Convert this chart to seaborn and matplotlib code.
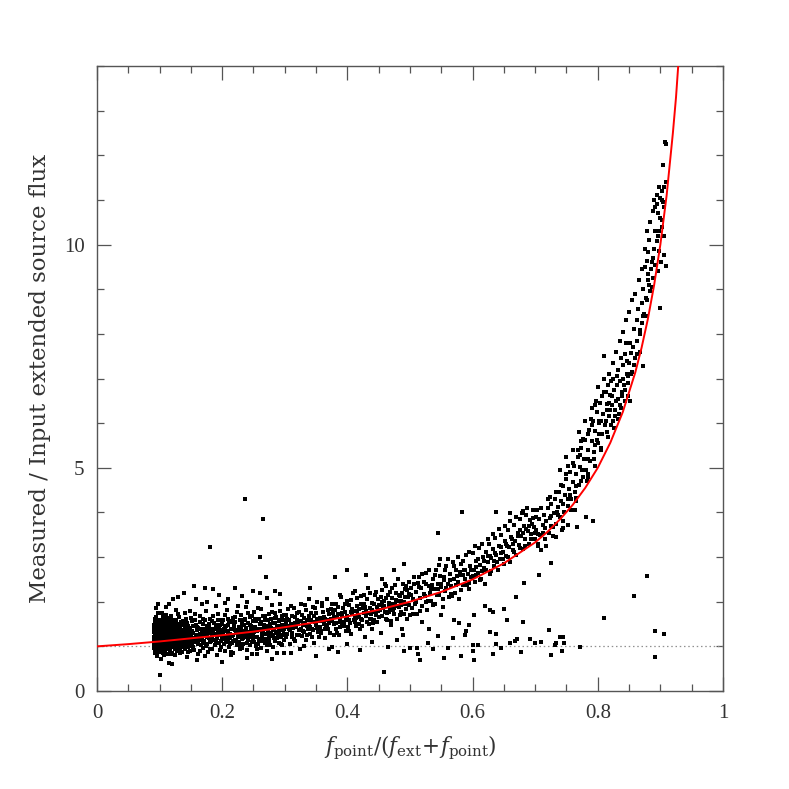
import numpy as np
import pandas as pd
import matplotlib
matplotlib.use("Agg")
import matplotlib.pyplot as plt
import seaborn as sns
from matplotlib.ticker import MultipleLocator

### 1. Values ###

## dense clump at the left edge ##
pts_left = [
    (0.091,1.05),(0.091,1.32),(0.092,0.92),(0.092,1.18),(0.092,1.55),(0.093,1.25),(0.093,0.85),(0.093,1.42),
    (0.094,1.10),(0.094,1.65),(0.094,0.98),(0.095,1.28),(0.095,1.85),(0.095,1.02),(0.096,1.38),(0.096,0.78),
    (0.096,1.15),(0.097,1.48),(0.097,1.22),(0.097,0.95),(0.098,1.33),(0.098,1.08),(0.098,1.95),(0.099,1.27),
    (0.099,0.88),(0.099,1.60),(0.100,1.12),(0.100,1.40),(0.100,0.35),(0.101,1.20),(0.101,0.99),(0.101,1.52),
    (0.102,1.30),(0.102,1.05),(0.102,0.72),(0.103,1.45),(0.103,1.17),(0.103,0.93),(0.104,1.36),(0.104,1.24),
    (0.104,1.75),(0.105,1.09),(0.105,1.50),(0.105,0.86),(0.106,1.28),(0.106,1.14),(0.106,1.02),(0.107,1.42),
    (0.107,1.21),(0.107,0.96),(0.108,1.33),(0.108,1.62),(0.108,1.07),(0.109,1.19),(0.109,0.90),(0.109,1.38),
    (0.110,1.26),(0.110,1.11),(0.110,1.48),(0.111,1.00),(0.111,1.31),(0.111,1.70),(0.112,1.16),(0.112,0.82),
    (0.112,1.44),(0.113,1.23),(0.113,1.05),(0.113,1.35),(0.114,0.97),(0.114,1.55),(0.114,1.18),(0.115,1.29),
    (0.115,1.12),(0.115,0.62),(0.116,1.40),(0.116,1.03),(0.116,1.24),(0.117,1.58),(0.117,0.92),(0.117,1.15),
    (0.118,1.34),(0.118,1.08),(0.118,1.27),(0.119,1.46),(0.119,0.99),(0.119,1.20),(0.120,1.13),(0.120,1.37),
    (0.120,0.85),(0.121,1.25),(0.121,1.52),(0.121,1.06),(0.122,1.17),(0.122,1.32),(0.122,2.05),(0.123,1.01),
    (0.123,1.42),(0.123,1.22),(0.124,0.94),(0.124,1.30),(0.124,1.11),(0.125,1.48),(0.125,1.19),(0.125,0.80),
    (0.126,1.36),(0.126,1.04),(0.126,1.26),(0.127,1.14),(0.127,1.60),(0.127,0.96),(0.128,1.29),(0.128,1.09),
    (0.128,1.40),(0.129,1.21),(0.129,0.89),(0.130,1.33),(0.130,1.16),(0.130,1.72),(0.131,1.02),(0.131,1.25),
    (0.132,1.44),(0.132,1.10),(0.133,0.93),(0.133,1.30),(0.134,1.20),(0.134,1.55),(0.135,1.07),(0.135,1.36),
    (0.136,0.87),(0.136,1.24),(0.137,1.13),(0.137,1.47),(0.138,1.00),(0.138,1.31),(0.139,1.19),(0.139,2.20),
    (0.140,1.41),(0.140,1.06),(0.141,1.27),(0.141,0.95),(0.142,1.15),(0.142,1.62),(0.143,1.34),(0.143,1.03),
    (0.144,1.22),(0.144,0.76),(0.145,1.45),(0.145,1.12),(0.146,1.29),(0.146,0.98),(0.147,1.38),(0.147,1.18),
    (0.148,1.08),(0.148,1.80),(0.149,1.26),(0.149,0.90),(0.150,1.35),(0.150,1.14),
    (0.0915,1.15),(0.0935,1.36),(0.0955,1.07),(0.0975,1.19),(0.0995,1.45),(0.1015,1.30),(0.1035,1.02),
    (0.1055,1.23),(0.1075,1.13),(0.1095,1.34),(0.1115,1.08),(0.1135,1.47),(0.1155,1.20),(0.1175,1.01),
    (0.1195,1.31),(0.1215,1.15),(0.1235,1.38),(0.1255,1.09),(0.1275,1.24),(0.1295,1.04),(0.1315,1.39),
    (0.1335,1.17),(0.1355,1.27),(0.1375,0.99),(0.1395,1.32),(0.1415,1.12),(0.1435,1.43),(0.1455,1.06),
    (0.1475,1.23),(0.1495,1.01),
    (0.0905,1.40),(0.0912,0.96),(0.0925,1.62),(0.0938,1.12),(0.0948,0.88),(0.0958,1.50),(0.0968,1.30),
    (0.0982,1.74),(0.0992,1.03),(0.1008,1.58),(0.1022,0.90),(0.1032,1.36),(0.1046,1.16),(0.1058,1.68),
    (0.1066,0.80),(0.1082,1.44),(0.1092,1.22),(0.1104,1.88),(0.1118,0.93),(0.1126,1.38),(0.1142,1.28),
    (0.1152,1.64),(0.1168,1.05),(0.1182,1.52),(0.1188,0.82),(0.1206,1.42),(0.1224,1.00),(0.1232,1.58),
    (0.1246,1.26),(0.1262,1.82),(0.1272,0.90),(0.1286,1.50),(0.1302,1.10),(0.1318,1.66),(0.1326,0.86),
    (0.1342,1.48),(0.1364,1.12),(0.1382,1.56),(0.1398,1.00),(0.1406,1.74),(0.1424,1.20),(0.1446,1.52),
    (0.1462,0.88),(0.1486,1.42),(0.1498,1.64),
    (0.0908,1.22),(0.0918,1.48),(0.0942,1.34),(0.0962,0.92),(0.0978,1.40),(0.1002,1.28),(0.1012,1.08),
    (0.1028,1.46),(0.1052,1.34),(0.1072,1.60),(0.1088,1.04),(0.1108,1.30),(0.1122,1.56),(0.1138,1.10),
    (0.1162,1.36),(0.1178,1.68),(0.1198,1.12),(0.1218,1.42),(0.1242,1.52),(0.1268,1.18),(0.1292,1.44),
    (0.1322,1.24),(0.1352,1.50),(0.1388,1.26),(0.1418,1.34),(0.1452,1.20),(0.1482,1.30),
]

## band from 0.15 to 0.30 ##
pts_low = [
    (0.151,1.22),(0.152,1.04),(0.153,1.46),(0.154,1.30),(0.155,0.92),(0.156,1.18),(0.157,1.58),(0.158,1.10),
    (0.159,1.37),(0.160,1.25),(0.161,0.84),(0.162,1.42),(0.163,1.15),(0.164,1.28),(0.165,1.68),(0.166,1.02),
    (0.167,1.33),(0.168,1.20),(0.169,0.97),(0.170,1.50),(0.171,1.12),(0.172,1.38),(0.173,2.30),(0.174,1.26),
    (0.175,1.06),(0.176,1.45),(0.177,0.88),(0.178,1.31),(0.179,1.18),(0.180,3.22),(0.180,1.62),(0.181,1.09),
    (0.182,1.40),(0.183,1.23),(0.184,0.95),(0.185,1.35),(0.186,1.14),(0.187,1.52),(0.188,1.27),(0.189,1.02),
    (0.190,1.44),(0.191,1.19),(0.192,0.80),(0.193,1.33),(0.194,1.72),(0.195,1.08),(0.196,1.25),(0.197,1.48),
    (0.198,0.99),(0.199,1.36),(0.200,1.16),(0.201,1.58),(0.202,1.29),(0.203,1.05),(0.204,1.41),(0.205,0.90),
    (0.206,1.22),(0.207,1.82),(0.208,1.34),(0.209,1.12),(0.210,1.47),(0.211,0.98),(0.212,1.28),(0.213,1.18),
    (0.214,1.55),(0.215,1.07),(0.216,1.39),(0.217,1.25),(0.218,0.86),(0.219,1.45),(0.220,1.14),(0.221,1.66),
    (0.222,1.31),(0.223,1.02),(0.224,1.37),(0.225,1.21),(0.226,1.90),(0.227,1.10),(0.228,1.43),(0.229,0.94),
    (0.230,1.30),(0.231,1.52),(0.232,1.17),(0.233,1.35),(0.234,1.06),(0.235,1.60),(0.236,1.26),(0.237,4.30),
    (0.238,1.41),(0.239,0.92),(0.240,1.33),(0.241,1.14),(0.242,1.75),(0.243,1.24),(0.244,1.48),(0.245,1.03),
    (0.246,1.36),(0.247,0.82),(0.248,1.20),(0.249,1.56),(0.250,1.29),(0.251,1.10),(0.252,1.44),(0.253,1.62),
    (0.254,1.00),(0.255,1.34),(0.256,1.22),(0.257,1.85),(0.258,1.40),(0.259,1.13),(0.260,3.00),(0.261,1.50),
    (0.262,0.96),(0.263,1.31),(0.264,1.19),(0.265,1.68),(0.266,3.85),(0.267,1.38),(0.268,1.08),(0.269,1.27),
    (0.270,2.55),(0.271,1.46),(0.272,0.90),(0.273,1.35),(0.274,1.58),(0.275,1.17),(0.276,1.42),(0.277,1.04),
    (0.278,1.30),(0.279,1.78),(0.280,1.24),(0.281,1.52),(0.282,0.98),(0.283,1.39),(0.284,1.12),(0.285,1.64),
    (0.286,1.33),(0.287,1.45),(0.288,0.85),(0.289,1.26),(0.290,1.56),(0.291,1.08),(0.292,1.40),(0.293,1.95),
    (0.294,1.21),(0.295,1.48),(0.296,1.02),(0.297,1.36),(0.298,1.70),(0.299,1.15),(0.300,1.44),
    (0.1525,1.34),(0.1555,1.13),(0.1585,1.26),(0.1615,1.05),(0.1645,1.39),(0.1675,1.16),(0.1705,1.29),
    (0.1735,1.00),(0.1765,1.21),(0.1795,1.44),(0.1825,1.11),(0.1855,1.30),(0.1885,1.03),(0.1915,1.25),
    (0.1945,1.38),(0.1975,1.12),(0.2005,1.27),(0.2035,1.40),(0.2065,1.09),(0.2095,1.32),(0.2125,1.05),
    (0.2155,1.24),(0.2185,1.43),(0.2215,1.15),(0.2245,1.28),(0.2275,1.02),(0.2305,1.40),(0.2335,1.18),
    (0.2365,1.30),(0.2395,1.08),(0.2425,1.26),(0.2455,1.45),(0.2485,1.12),(0.2515,1.32),(0.2545,1.20),
    (0.2575,1.05),(0.2605,1.38),(0.2635,1.24),(0.2665,1.48),(0.2695,1.16),(0.2725,1.30),(0.2755,1.10),
    (0.2785,1.42),(0.2815,1.25),(0.2845,1.53),(0.2875,1.18),(0.2905,1.35),(0.2935,1.05),(0.2965,1.46),
    (0.2995,1.27),
    (0.1512,1.56),(0.1538,0.98),(0.1568,1.72),(0.1592,1.44),(0.1622,1.20),(0.1652,0.90),(0.1688,1.62),
    (0.1712,1.40),(0.1748,1.80),(0.1772,1.34),(0.1808,0.94),(0.1838,1.56),(0.1872,1.14),(0.1898,1.90),
    (0.1932,1.48),(0.1962,0.92),(0.1992,1.60),(0.2022,1.18),(0.2052,1.70),(0.2082,1.24),(0.2112,1.56),
    (0.2142,0.88),(0.2172,1.64),(0.2202,1.36),(0.2232,1.76),(0.2262,1.20),(0.2292,1.58),(0.2322,0.96),
    (0.2352,1.48),(0.2382,1.88),(0.2412,1.30),(0.2442,1.66),(0.2472,1.10),(0.2502,1.78),(0.2532,1.40),
    (0.2562,0.94),(0.2592,1.62),(0.2622,1.84),(0.2652,1.30),(0.2682,1.58),(0.2712,1.02),(0.2742,1.72),
    (0.2772,1.50),(0.2802,1.92),(0.2832,1.18),(0.2862,1.66),(0.2892,1.46),(0.2922,1.80),(0.2952,1.26),
    (0.2982,1.60),
    (0.1532,1.10),(0.1578,1.48),(0.1602,1.18),(0.1638,1.54),(0.1662,1.28),(0.1698,1.08),(0.1722,1.60),
    (0.1758,1.24),(0.1782,1.50),(0.1818,1.32),(0.1848,1.68),(0.1878,1.40),(0.1908,1.12),(0.1938,1.58),
    (0.1968,1.30),(0.1998,1.50),(0.2028,1.06),(0.2058,1.46),(0.2088,1.62),(0.2118,1.20),(0.2148,1.40),
    (0.2178,1.12),(0.2208,1.54),(0.2238,1.08),(0.2268,1.44),(0.2298,1.70),(0.2328,1.28),(0.2358,1.62),
    (0.2388,1.20),(0.2418,1.52),(0.2448,1.32),(0.2478,1.68),(0.2508,1.22),(0.2538,1.56),(0.2568,1.36),
    (0.2598,1.16),(0.2628,1.54),(0.2658,1.12),(0.2688,1.68),(0.2718,1.40),(0.2748,1.22),(0.2778,1.62),
    (0.2808,1.36),(0.2838,1.74),(0.2868,1.30),(0.2898,1.20),(0.2928,1.58),(0.2958,1.68),(0.2988,1.40),
    (0.115,1.95),(0.130,2.10),(0.155,2.35),(0.175,2.00),(0.195,2.15),(0.210,2.05),(0.220,2.30),(0.240,2.00),
    (0.260,2.20),(0.285,2.25),(0.120,0.60),(0.160,0.70),(0.200,0.65),(0.240,0.75),(0.280,0.72),
    (0.158,2.05),(0.168,1.95),(0.186,2.28),(0.204,1.98),(0.232,2.12),(0.250,2.25),(0.272,2.08),(0.292,2.18),
    (0.172,0.78),(0.214,0.80),(0.256,0.82),(0.298,0.86),
]

## band from 0.30 to 0.50 ##
pts_mid = [
    (0.302,1.20),(0.304,1.62),(0.306,1.38),(0.308,1.05),(0.310,1.50),(0.312,1.30),(0.314,1.85),(0.316,1.12),
    (0.318,1.44),(0.320,1.58),(0.322,1.25),(0.324,0.95),(0.326,1.40),(0.328,1.70),(0.330,1.33),(0.332,1.52),
    (0.334,1.15),(0.336,1.46),(0.338,2.05),(0.340,1.28),(0.342,1.60),(0.344,1.38),(0.346,1.08),(0.348,1.55),
    (0.350,1.75),(0.352,1.42),(0.354,1.22),(0.356,1.64),(0.358,1.35),(0.360,1.90),(0.362,1.50),(0.364,1.18),
    (0.366,1.58),(0.368,1.44),(0.370,1.72),(0.372,1.30),(0.374,1.62),(0.376,0.98),(0.378,1.50),(0.380,1.82),
    (0.382,1.40),(0.384,1.66),(0.386,1.25),(0.388,1.55),(0.390,2.10),(0.392,1.70),(0.394,1.46),(0.396,1.78),
    (0.398,1.35),(0.400,1.62),(0.402,1.92),(0.404,1.52),(0.406,1.28),(0.408,1.72),(0.410,1.60),(0.412,2.25),
    (0.414,1.45),(0.416,1.80),(0.418,1.66),(0.420,1.38),(0.422,1.95),(0.424,1.58),(0.426,1.75),(0.428,1.20),
    (0.430,1.68),(0.432,2.05),(0.434,1.50),(0.436,1.86),(0.438,1.62),(0.440,1.40),(0.442,1.78),(0.444,2.15),
    (0.446,1.70),(0.448,1.55),(0.450,1.92),(0.452,1.82),(0.454,1.30),(0.456,1.68),(0.458,2.02),(0.460,1.76),
    (0.462,2.35),(0.464,1.58),(0.466,1.90),(0.468,1.85),(0.470,1.48),(0.472,2.08),(0.474,1.72),(0.476,1.95),
    (0.478,2.20),(0.480,1.62),(0.482,1.88),(0.484,2.12),(0.486,1.78),(0.488,1.40),(0.490,2.00),(0.492,2.28),
    (0.494,1.84),(0.496,1.96),(0.498,2.45),(0.500,1.70),
    (0.305,1.45),(0.311,1.22),(0.317,1.66),(0.323,1.36),(0.329,1.48),(0.335,1.26),(0.341,1.44),(0.347,1.68),
    (0.353,1.33),(0.359,1.56),(0.365,1.40),(0.371,1.52),(0.377,1.74),(0.383,1.30),(0.389,1.62),(0.395,1.55),
    (0.401,1.44),(0.407,1.84),(0.413,1.64),(0.419,1.50),(0.425,1.86),(0.431,1.54),(0.437,1.72),(0.443,1.60),
    (0.449,1.80),(0.455,2.00),(0.461,1.62),(0.467,1.98),(0.473,1.82),(0.479,2.02),(0.485,1.92),(0.491,1.72),
    (0.497,2.10),
    (0.3012,1.70),(0.3035,1.28),(0.3072,1.58),(0.3095,1.90),(0.3132,1.42),(0.3155,1.16),(0.3192,1.74),
    (0.3215,1.50),(0.3252,1.96),(0.3275,1.24),(0.3312,1.64),(0.3335,1.82),(0.3372,1.38),(0.3395,1.68),
    (0.3432,1.20),(0.3455,1.88),(0.3492,1.48),(0.3515,2.00),(0.3552,1.56),(0.3575,1.30),(0.3612,1.76),
    (0.3635,1.62),(0.3672,2.06),(0.3695,1.40),(0.3732,1.84),(0.3755,1.56),(0.3792,1.26),(0.3815,1.96),
    (0.3852,1.72),(0.3875,2.14),(0.3912,1.48),(0.3935,1.86),(0.3972,1.60),(0.3995,2.02),(0.4032,1.34),
    (0.4055,1.78),(0.4092,2.20),(0.4115,1.54),(0.4152,1.90),(0.4175,1.70),(0.4212,2.12),(0.4235,1.46),
    (0.4272,1.96),(0.4295,1.80),(0.4332,2.30),(0.4355,1.62),(0.4392,1.98),(0.4415,1.52),(0.4452,2.22),
    (0.4475,1.88),(0.4512,1.66),(0.4535,2.10),(0.4572,1.86),(0.4595,2.40),(0.4632,1.74),(0.4655,2.16),
    (0.4692,1.56),(0.4715,2.30),(0.4752,1.86),(0.4775,2.04),(0.4812,2.50),(0.4835,1.70),(0.4872,2.20),
    (0.4895,1.94),(0.4932,2.36),(0.4955,1.62),(0.4982,2.18),
    (0.3022,1.52),(0.3058,1.84),(0.3088,1.36),(0.3122,1.68),(0.3158,1.52),(0.3188,1.26),(0.3222,1.78),
    (0.3258,1.56),(0.3288,1.34),(0.3322,1.92),(0.3358,1.58),(0.3388,1.46),(0.3422,1.74),(0.3458,1.36),
    (0.3488,1.86),(0.3522,1.62),(0.3558,1.44),(0.3588,1.98),(0.3622,1.66),(0.3658,1.48),(0.3688,1.82),
    (0.3722,1.58),(0.3758,1.94),(0.3788,1.66),(0.3822,1.52),(0.3858,1.88),(0.3888,1.44),(0.3922,1.74),
    (0.3958,1.94),(0.3988,1.68),(0.4022,1.58),(0.4058,2.04),(0.4088,1.80),(0.4122,1.68),(0.4158,2.08),
    (0.4188,1.84),(0.4222,1.62),(0.4258,2.16),(0.4288,1.88),(0.4322,1.74),(0.4358,2.20),(0.4388,1.82),
    (0.4422,1.96),(0.4458,1.74),(0.4488,2.06),(0.4522,1.92),(0.4558,2.26),(0.4588,1.90),(0.4622,2.08),
    (0.4658,1.78),(0.4688,2.22),(0.4722,1.96),(0.4758,2.38),(0.4788,1.90),(0.4822,2.16),(0.4858,2.02),
    (0.4888,2.40),(0.4922,2.10),(0.4958,2.26),(0.4988,1.92),
    (0.310,0.85),(0.330,1.00),(0.350,0.78),(0.370,0.95),(0.385,0.88),(0.400,1.05),(0.420,0.92),(0.440,1.10),
    (0.458,0.43),(0.465,0.98),(0.480,1.15),(0.490,0.90),(0.489,1.26),
    (0.340,2.30),(0.380,2.55),(0.400,2.71),(0.430,2.60),(0.455,2.50),(0.475,2.70),(0.490,2.85),
]

## band from 0.50 to 0.70 ##
pts_upper = [
    (0.502,2.15),(0.504,1.85),(0.506,2.40),(0.508,1.95),(0.510,2.22),(0.512,1.72),(0.514,2.55),(0.516,2.08),
    (0.518,2.30),(0.520,1.90),(0.522,2.45),(0.524,2.12),(0.526,2.65),(0.528,1.82),(0.530,2.35),(0.532,2.20),
    (0.534,2.02),(0.536,2.50),(0.538,2.28),(0.540,1.95),(0.542,2.70),(0.544,2.40),(0.546,2.15),(0.548,2.58),
    (0.550,2.32),(0.552,1.88),(0.554,2.48),(0.556,2.25),(0.558,2.80),(0.560,2.40),(0.562,2.10),(0.564,2.62),
    (0.566,2.35),(0.568,2.90),(0.570,2.52),(0.572,2.20),(0.574,2.70),(0.576,2.45),(0.578,2.05),(0.580,2.60),
    (0.582,2.85),(0.584,2.38),(0.586,2.72),(0.588,2.50),(0.590,3.05),(0.592,2.62),(0.594,2.28),(0.596,2.80),
    (0.598,2.55),(0.600,3.10),(0.602,2.70),(0.604,2.45),(0.606,2.92),(0.608,2.65),(0.610,3.20),(0.612,2.82),
    (0.614,2.52),(0.616,3.00),(0.618,2.75),(0.620,2.40),(0.622,3.12),(0.624,2.88),(0.626,3.30),(0.628,2.62),
    (0.630,2.98),(0.632,3.18),(0.634,2.80),(0.636,3.42),(0.638,3.05),(0.640,2.70),(0.642,3.25),(0.644,2.95),
    (0.646,3.50),(0.648,3.12),(0.650,2.85),(0.652,3.35),(0.654,3.02),(0.656,3.60),(0.658,3.22),(0.660,2.90),
    (0.662,3.45),(0.664,3.15),(0.666,3.72),(0.668,3.35),(0.670,3.05),(0.672,3.55),(0.674,3.28),(0.676,3.85),
    (0.678,3.48),(0.680,3.18),(0.682,3.70),(0.684,3.40),(0.686,3.95),(0.688,3.58),(0.690,3.30),(0.692,3.82),
    (0.694,3.52),(0.696,4.05),(0.698,3.68),(0.700,3.40),
    (0.505,2.05),(0.515,2.32),(0.525,2.00),(0.535,2.38),(0.545,2.28),(0.555,2.55),(0.565,2.18),(0.575,2.58),
    (0.585,2.60),(0.595,2.42),(0.605,2.78),(0.615,2.68),(0.625,3.02),(0.635,2.92),(0.645,3.10),(0.655,3.25),
    (0.665,3.30),(0.675,3.60),(0.685,3.62),(0.695,3.75),
    (0.5012,2.30),(0.5042,1.72),(0.5072,2.55),(0.5102,2.00),(0.5132,2.42),(0.5162,1.80),(0.5192,2.62),
    (0.5222,2.18),(0.5252,2.40),(0.5282,2.02),(0.5312,2.72),(0.5342,2.28),(0.5372,1.92),(0.5402,2.60),
    (0.5432,2.14),(0.5462,2.82),(0.5492,2.40),(0.5522,2.05),(0.5552,2.70),(0.5582,2.30),(0.5612,2.95),
    (0.5642,2.48),(0.5672,2.12),(0.5702,2.80),(0.5732,2.38),(0.5762,3.00),(0.5792,2.66),(0.5822,2.26),
    (0.5852,2.92),(0.5882,2.70),(0.5912,2.38),(0.5942,3.12),(0.5972,2.72),(0.6002,2.58),(0.6032,3.25),
    (0.6062,2.60),(0.6092,2.95),(0.6122,2.48),(0.6152,3.30),(0.6182,2.92),(0.6212,2.70),(0.6242,3.40),
    (0.6272,3.02),(0.6302,2.68),(0.6332,3.52),(0.6362,3.10),(0.6392,2.88),(0.6422,3.62),(0.6452,3.22),
    (0.6482,2.96),(0.6512,3.70),(0.6542,3.30),(0.6572,3.00),(0.6602,3.80),(0.6632,3.40),(0.6662,3.12),
    (0.6692,3.90),(0.6722,3.48),(0.6752,3.20),(0.6782,3.98),(0.6812,3.55),(0.6842,3.25),(0.6872,4.10),
    (0.6902,3.70),(0.6932,3.40),(0.6962,3.88),(0.6992,3.55),
    (0.545,3.54),(0.548,2.96),(0.583,4.00),(0.637,4.00),(0.660,3.99),(0.680,4.03),(0.682,2.42),(0.706,2.60),
    (0.726,2.87),(0.602,1.70),(0.628,1.82),(0.633,1.77),(0.578,1.52),(0.594,1.48),(0.650,1.84),(0.520,1.55),
    (0.530,1.40),(0.550,1.70),(0.570,1.60),(0.620,1.90),(0.655,1.60),(0.670,2.10),(0.680,1.55),(0.590,1.35),
]

## points sitting near the y = 1 line ##
pts_flat = [
    (0.500,0.97),(0.511,0.97),(0.513,0.84),(0.516,0.69),(0.529,1.07),(0.537,0.94),(0.544,1.24),(0.555,0.75),
    (0.561,0.96),(0.569,1.18),(0.581,0.78),(0.588,1.26),(0.600,1.02),(0.600,0.90),(0.603,0.70),(0.608,1.03),
    (0.628,1.33),(0.633,0.84),(0.637,1.05),(0.638,1.28),(0.646,0.96),(0.660,1.07),(0.668,1.13),(0.671,1.16),
    (0.677,0.87),(0.692,1.17),(0.699,1.07),(0.710,1.09),(0.722,1.37),(0.725,0.81),(0.732,1.03),(0.734,1.07),
    (0.739,1.20),(0.743,0.89),(0.745,1.20),(0.746,1.07),(0.772,0.99),(0.810,1.64),(0.858,2.13),(0.878,2.57),
    (0.891,1.35),(0.891,0.77),(0.906,1.27),
]

## steep part, 0.70 to 0.82 ##
pts_steep = [
    (0.702,3.60),(0.704,3.25),(0.706,3.85),(0.708,3.50),(0.710,3.15),(0.712,3.72),(0.714,3.95),(0.716,3.40),
    (0.718,3.80),(0.720,4.10),(0.722,3.55),(0.724,3.88),(0.726,4.20),(0.728,3.68),(0.730,3.98),(0.732,4.30),
    (0.734,3.75),(0.736,4.12),(0.738,4.45),(0.740,3.90),(0.742,4.25),(0.744,4.60),(0.746,4.02),(0.748,4.38),
    (0.750,4.75),(0.752,4.15),(0.754,4.52),(0.756,4.90),(0.758,4.30),(0.760,4.68),(0.762,5.05),(0.764,4.45),
    (0.766,4.85),(0.768,5.25),(0.770,4.62),(0.772,5.02),(0.774,5.45),(0.776,4.80),(0.778,5.20),(0.780,5.62),
    (0.782,4.95),(0.784,5.40),(0.786,5.85),(0.788,5.15),(0.790,5.60),(0.792,6.05),(0.794,5.35),(0.796,5.82),
    (0.798,6.25),(0.800,5.55),(0.802,6.00),(0.804,6.45),(0.806,5.75),(0.808,6.20),(0.810,7.50),(0.812,5.95),
    (0.814,6.42),(0.816,6.85),(0.818,6.15),(0.820,6.62),
    (0.705,3.52),(0.715,3.66),(0.725,3.70),(0.735,4.00),(0.745,4.20),(0.755,4.40),(0.765,4.60),(0.775,4.95),
    (0.785,5.20),(0.795,5.50),(0.805,6.05),(0.815,6.30),(0.703,4.05),(0.723,4.35),(0.743,3.60),(0.763,4.05),
    (0.783,4.70),(0.733,3.45),(0.753,5.05),(0.773,5.60),
    (0.753,3.72),(0.767,3.68),(0.782,3.90),(0.793,3.81),
    (0.7012,3.90),(0.7052,3.30),(0.7092,4.10),(0.7132,3.55),(0.7172,3.25),(0.7212,4.30),(0.7252,3.92),
    (0.7292,3.48),(0.7332,4.45),(0.7372,3.95),(0.7412,4.62),(0.7452,3.80),(0.7492,4.85),(0.7532,4.30),
    (0.7572,4.05),(0.7612,5.10),(0.7652,4.32),(0.7692,5.40),(0.7732,4.70),(0.7772,5.65),(0.7812,5.20),
    (0.7852,4.85),(0.7892,6.10),(0.7932,5.20),(0.7972,6.50),(0.8012,5.75),(0.8052,5.45),(0.8092,6.70),
    (0.8132,6.05),(0.8172,7.10),(0.8192,6.30),
    (0.740,4.95),(0.750,5.25),(0.760,5.40),(0.770,5.80),(0.780,6.05),(0.790,6.35),(0.800,6.80),(0.810,7.00),
    (0.745,3.65),(0.765,4.25),(0.785,4.80),(0.795,5.05),(0.805,5.40),(0.815,5.80),
]

## top end, 0.82 to 0.91 ##
pts_top = [
    (0.822,6.40),(0.824,6.05),(0.826,6.75),(0.828,6.30),(0.830,7.05),(0.832,6.55),(0.834,6.20),(0.836,6.95),
    (0.838,6.70),(0.840,7.30),(0.842,6.85),(0.844,7.55),(0.846,7.10),(0.848,6.60),(0.850,7.35),(0.851,6.49),
    (0.852,7.80),(0.853,7.57),(0.855,7.15),(0.857,7.70),(0.858,8.10),(0.860,7.45),(0.862,8.30),(0.863,7.83),
    (0.865,8.55),(0.867,8.09),(0.868,7.60),(0.870,8.70),(0.871,8.25),(0.872,7.27),(0.873,9.00),(0.874,8.45),
    (0.876,9.50),(0.877,8.39),(0.878,9.63),(0.879,8.77),(0.880,9.84),(0.881,9.35),(0.881,9.20),(0.882,10.10),
    (0.883,8.95),(0.885,9.45),(0.886,9.05),(0.888,9.70),(0.889,9.25),(0.891,10.85),(0.892,9.55),(0.894,10.90),
    (0.894,10.07),(0.896,9.40),(0.897,10.20),(0.898,11.28),(0.898,10.30),(0.898,9.85),(0.899,8.57),(0.900,10.60),
    (0.902,10.56),(0.903,11.20),(0.903,10.40),(0.905,11.79),(0.906,11.30),(0.906,10.85),(0.906,10.20),
    (0.906,9.76),(0.907,12.30),(0.909,12.26),(0.909,11.40),(0.909,9.53),
    (0.821,5.95),(0.823,6.60),(0.825,7.00),(0.827,6.15),(0.829,6.50),(0.831,6.85),(0.833,7.20),(0.835,6.40),
    (0.837,7.45),(0.839,6.60),(0.841,7.00),(0.843,6.75),(0.845,7.80),(0.847,7.40),(0.849,7.05),(0.818,6.45),
    (0.802,6.04),(0.798,5.63),(0.772,5.29),(0.817,5.70),(0.813,6.70),(0.807,6.60),(0.795,6.40),(0.790,5.95),
    (0.785,5.75),
    (0.8212,6.95),(0.8242,7.35),(0.8262,5.90),(0.8292,7.60),(0.8322,6.10),(0.8352,7.85),(0.8372,6.35),
    (0.8402,8.05),(0.8432,6.50),(0.8452,8.30),(0.8482,6.90),(0.8502,8.50),(0.8532,7.10),(0.8552,8.75),
    (0.8582,7.30),(0.8602,8.90),(0.8632,7.55),(0.8652,9.20),(0.8682,8.00),(0.8702,9.45),(0.8722,8.40),
    (0.8752,9.90),(0.8772,8.80),(0.8792,10.30),(0.8822,9.10),(0.8842,10.50),(0.8862,9.60),(0.8892,11.00),
    (0.8912,10.30),(0.8942,11.10),(0.8962,10.70),(0.9002,11.05),(0.9022,11.00),(0.9042,10.95),(0.8882,10.75),
    (0.8902,9.90),(0.9012,9.60),
]

## red model curve, read at a set of x positions ##
fit_x = [0.0, 0.05, 0.10, 0.15, 0.20, 0.25, 0.30, 0.35, 0.40, 0.45, 0.50, 0.55, 0.60, 0.65, 0.70, 0.72,
         0.74, 0.76, 0.78, 0.80, 0.82, 0.84, 0.86, 0.87, 0.88, 0.89, 0.90, 0.91, 0.92, 0.925, 0.93]
fit_y = [1.00, 1.05, 1.11, 1.18, 1.25, 1.33, 1.43, 1.54, 1.67, 1.82, 2.00, 2.22, 2.50, 2.86, 3.33, 3.57,
         3.85, 4.17, 4.55, 5.00, 5.56, 6.25, 7.14, 7.69, 8.33, 9.09, 10.0, 11.1, 12.5, 13.3, 14.3]

ref_level = 1.0

### 2. Plot ###
sns.set_style('ticks')
plt.rcParams['font.family'] = ['DejaVu Serif']
plt.rcParams['mathtext.fontset'] = 'dejavuserif'

all_pts = pts_left + pts_low + pts_mid + pts_upper + pts_flat + pts_steep + pts_top
data = pd.DataFrame(all_pts, columns=['frac', 'ratio'])
fit = pd.DataFrame({'frac': fit_x, 'ratio': fit_y})

fig = plt.figure(figsize=(7.89, 7.89), dpi=100)
ax = fig.add_axes([0.1229, 0.1242, 0.7934, 0.7921])

ax.axhline(ref_level, color='#909090', lw=0.9, linestyle=(0, (1.2, 2.2)), zorder=1)
sns.scatterplot(data=data, x='frac', y='ratio', ax=ax, marker='s', s=5.5,
                color='black', linewidth=0, zorder=2)
sns.lineplot(data=fit, x='frac', y='ratio', ax=ax, color='#ff0000', lw=1.4,
             sort=False, estimator=None, zorder=3)

#Formatting
ax.set_xlim(0, 1)
ax.set_ylim(0, 14)
ax.xaxis.set_minor_locator(MultipleLocator(0.05))
ax.yaxis.set_minor_locator(MultipleLocator(1))
ax.set_xticks([0, 0.2, 0.4, 0.6, 0.8, 1.0])
ax.set_xticklabels(['0', '0.2', '0.4', '0.6', '0.8', '1'], family='Liberation Serif')
ax.set_yticks([0, 5, 10])
ax.set_yticklabels(['0', '5', '10'], family='Liberation Serif')
ax.tick_params(which='both', direction='in', top=True, right=True, color='#555555',
               labelsize=15, labelcolor='#333333')
ax.tick_params(which='major', length=10, width=0.9, pad=9)
ax.tick_params(which='minor', length=5, width=0.9)
for sp in ax.spines.values():
    sp.set_color('#555555')
    sp.set_linewidth(1.0)

ax.set_xlabel(r'$f_{\rm point}/(f_{\rm ext}\!+\!f_{\rm point})$', fontsize=15.5, color='#333333', labelpad=8)
ax.set_ylabel('Measured / Input extended source flux', fontsize=16.5, color='#333333', labelpad=9)

plt.savefig('out.png', dpi=100)
